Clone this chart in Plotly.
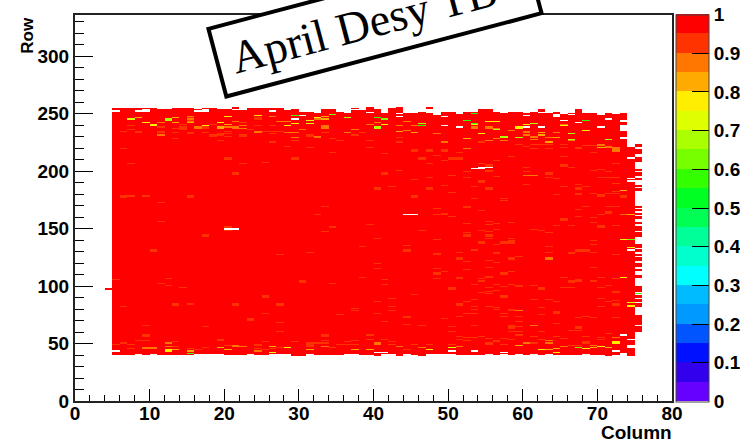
import plotly.graph_objects as go

# ---- data ----
FIRST_COL = 5
TOP_ROW = [254,254,254,254,254,254,253,253,254,254,254,253,254,254,253,253,252,252,254,254,254,254,254,252,
           253,251,251,250,253,253,251,250,254,252,255,253,250,254,255,250,250,251,250,248,251,251,249,251,
           251,253,253,251,250,251,251,250,251,253,250,251,249,250,253,250,250,248,250,249,250,220]
BOTTOM_ROW = [40,40,40,41,40,41,40,40,40,40,40,41,41,41,41,40,40,40,41,40,40,41,41,41,39,39,41,40,40,40,40,41,41,40,40,39,
              41,41,39,41,40,39,41,41,41,41,40,40,40,40,41,40,41,40,41,40,41,40,41,40,40,40,40,41,40,40,39,40,42,39]
# separate stubs above the main body and the sparse last columns (col, low row, high row)
EXTRA_RANGES = [(4,97,97),(21,254,255),(47,254,255)]
LAST_COL = 75
LAST_COL_RANGES = [(221,223),(215,218),(208,211),(200,201),(196,198),(192,193),(186,187),(183,184),(168,169),
                   (165,166),(162,163),(158,160),(154,155),(150,151),(148,149),(143,146),(133,136),(130,131),
                   (126,127),(122,124),(117,119),(113,114),(107,109),(95,99),(93,93),(90,91),(86,88),(82,84),
                   (71,74),(66,70),(60,64)]
HOLES = [(5,252),(8,252),(9,252),(9,253),(16,252),(17,252),(17,253),(26,252),(29,245),(30,248),(37,253),(39,251),
         (43,250),(43,247),(49,247),(49,239),(51,238),(60,248),(60,238),(62,251),(62,238),(64,247),(64,248),(64,249),
         (65,244),(66,249),(67,242),(70,238),(71,245),(73,243),(73,244),(73,235),(73,236),(73,237),(73,238),(73,239),
         (73,228),(73,229),(74,211),(74,193),(74,191),(74,131),(73,57),(74,53),(74,46),(74,47),(74,48),
         (5,43),(40,42),(41,42),(50,43),(53,43),(57,42),(72,43),(73,57),
         (53,202),(54,202),(54,203),(55,203),(20,149),(21,149),(20,150),(21,150),(44,162),(45,162)]
# faint lower-efficiency cells inside the body (column -> rows), all in the 0.90-0.95 band
INTERIOR_VALUE = 0.92
INTERIOR = {
 5:[105],6:[219,177,178,82],7:[178,206],9:[178,65],10:[130,131],11:[172,156,102],12:[106,100],13:[83,84],14:[98],
 15:[84,177,178],17:[143,144,64],20:[210,211,148,151],21:[197,198,83,84],22:[206],23:[70,71],25:[207,90,91,76],
 27:[127,83,84,68,60],28:[221],29:[210,211],30:[103,104],31:[220,129],32:[162],33:[169,147],34:[216,151,102],35:[75],
 37:[80,78],38:[134,107],39:[220,153],40:[184,185,141,119,115,86,76],41:[215,197,198,105,101,69],42:[186,89,82,78],
 43:[200],44:[135,130,131,72,73,66],45:[217,218,192,177,178,92],46:[210,211,148,65],47:[217,218,206,194,184,185],
 48:[213,167,162,140,127,128,115,110,111,106],49:[217,218,209,187,162,163,112,71],50:[210,211,196,181,160,98,97,64],
 51:[216,210,211,129,123,124,106,107,83,84,73],52:[199,194,168,169,154,146,143,144,121,114,86,76],
 53:[186,176,131,101,88,82,79,76,65],54:[206,190,191,165,148,137,138,106,104,94],
 55:[204,205,199,200,184,185,156,153,147,143,144,141,122,116,107,108,98,95,93,82],
 56:[209,195,154,149,136,128,129,120,101,96,81,79],57:[176,174,137,138,110,111,99,90,91,76,73],
 58:[212,155,141,139,137,138,123,124,112,101,78,79,65,63,64,60],59:[125,99,100,73,69,64],60:[221,203,199,188],
 61:[149,100,88],62:[148,97,98,81,75],63:[197,198,194,146,134,129,88],64:[193,179,152,86,76,77,67],
 65:[212,204,205,186,157,158,107,98],66:[203,152,128,129,103,104,98,61],67:[220,188,184,185,179,180,166,160,130,131,104,105,72,63,64],
 68:[222,186,169,130,131,73],69:[216,200,180,159,155,139,136,129,116,104,72],70:[201,194,178,179,162,151,152,107,98,89,82],
 71:[199,194,180,169,163,164,100,86],72:[206,194,189,182,180,169,152,127,106,94,95,87,83,84,72],
}
OFF_CELLS = [
 (7,245,.72),(8,246,.82),(9,242,.75),(10,239,.78),(10,240,.78),(7,239,.92),(7,236,.92),(8,233,.92),(8,234,.92),(6,234,.9),
 (12,244,.67),(12,245,.67),(11,242,.85),(11,238,.92),(11,234,.92),(11,233,.92),(11,231,.88),(13,246,.8),(13,242,.82),
 (13,237,.92),(13,233,.92),(13,228,.92),(14,236,.92),(14,237,.92),(14,238,.92),(14,240,.92),(15,243,.87),(15,244,.92),
 (15,245,.87),(15,246,.92),(15,247,.87),(15,242,.82),(15,232,.92),(15,233,.92),(16,237,.87),(16,238,.87),(17,239,.75),
 (17,237,.9),(17,238,.9),(17,233,.92),(18,240,.92),(18,230,.92),(18,231,.92),(19,242,.75),(19,237,.8),(19,238,.8),
 (19,231,.92),(19,232,.92),(19,226,.92),(20,247,.77),(20,240,.8),(20,238,.85),(20,234,.9),(20,232,.92),(20,230,.92),
 (21,243,.87),(21,237,.85),(21,238,.85),(22,242,.9),(22,239,.88),(22,237,.88),(22,230,.92),(22,231,.92),(23,236,.92),
 (24,248,.75),(24,245,.92),(24,246,.92),(24,239,.9),(24,234,.85),(24,233,.85),(25,234,.9),(26,247,.85),(26,239,.92),
 (26,234,.92),(26,232,.92),(26,225,.92),(27,243,.87),(27,234,.92),(28,243,.85),(28,239,.78),(28,233,.88),
 (29,248,.57),(29,241,.76),(29,233,.85),(29,229,.88),(29,226,.92),(30,236,.85),(31,244,.7),(31,241,.7),(31,230,.92),
 (31,231,.92),(32,246,.77),(32,245,.88),(32,230,.85),(32,229,.85),(33,247,.82),(33,245,.82),(33,237,.87),(33,238,.87),
 (33,239,.87),(33,233,.92),(34,249,.6),(34,228,.92),(35,226,.92),(36,246,.67),(36,233,.85),(37,236,.87),(37,231,.92),
 (38,233,.92),(39,240,.87),(39,226,.92),(40,246,.58),(40,242,.87),(40,237,.67),(40,238,.67),(41,245,.6),(41,240,.75),
 (43,239,.88),(43,234,.82),(43,229,.92),(43,225,.92),(44,243,.88),(44,235,.87),(45,239,.88),(45,233,.82),(46,241,.67),
 (46,239,.58),(48,232,.87),(49,225,.87),(52,244,.55),(52,228,.8),(53,250,.57),(53,241,.55),(53,240,.75),(53,237,.87),
 (53,238,.87),(54,232,.78),(54,225,.92),(55,243,.75),(55,237,.87),(55,238,.87),(55,226,.85),(56,243,.77),(56,237,.87),
 (56,236,.67),(56,228,.88),(57,229,.67),(57,230,.67),(57,226,.87),(58,235,.87),(59,237,.77),(59,238,.77),(59,229,.67),
 (59,223,.92),(60,240,.78),(60,233,.85),(60,234,.85),(60,231,.85),(61,241,.67),(61,229,.85),(61,230,.85),(61,227,.87),
 (61,223,.92),(61,219,.92),(62,233,.82),(62,231,.82),(62,223,.92),(63,229,.88),(63,225,.82),(63,223,.92),(63,219,.92),
 (64,233,.87),(64,229,.82),(65,240,.85),(65,239,.75),(65,223,.92),(65,220,.92),(66,232,.67),(66,227,.67),(66,226,.87),
 (67,219,.92),(68,244,.55),(68,235,.75),(68,222,.92),(69,222,.9),(69,216,.9),(70,223,.85),(70,222,.87),(70,220,.82),
 (71,227,.67),(71,221,.85),(71,220,.85),(72,220,.85),(72,218,.87),(72,219,.85),(72,217,.85),(73,183,.8),(73,177,.92),(73,178,.92),
 (73,162,.85),(73,140,.75),(73,107,.76),(74,162,.82),(74,140,.6),(74,133,.78),(74,85,.7),(74,83,.76),(74,82,.76),(75,93,.57),
 (52,219,.85),(60,196,.85),(61,196,.85),(61,65,.85),(63,123,.85),(63,124,.85),(59,78,.85),
 (6,50,.9),(5,49,.9),(7,49,.9),(7,45,.92),(8,52,.92),(9,52,.92),(9,56,.92),(9,57,.92),(9,46,.88),(10,46,.88),(9,45,.88),
 (10,45,.88),(12,50,.87),(12,47,.87),(12,43,.76),(12,44,.76),(13,51,.9),(13,47,.9),(13,44,.8),(15,45,.9),(15,41,.56),
 (15,43,.82),(16,44,.9),(17,46,.9),(19,52,.92),(19,53,.92),(19,46,.82),(20,48,.9),(20,44,.8),(21,47,.88),(21,48,.88),
 (22,47,.88),(24,48,.9),(24,49,.9),(24,45,.9),(24,43,.85),(25,51,.9),(25,44,.9),(26,47,.82),(26,45,.9),(26,42,.7),
 (27,60,.92),(27,46,.9),(28,46,.78),(29,51,.9),(31,47,.9),(31,48,.9),(31,49,.9),(31,50,.9),(31,44,.8),(32,50,.9),
 (33,56,.9),(33,57,.9),(33,52,.9),(33,50,.9),(33,47,.85),(34,46,.9),(35,49,.92),(36,51,.9),(36,49,.9),(37,52,.9),
 (37,49,.9),(37,44,.8),(39,57,.9),(39,53,.9),(39,44,.8),(40,50,.87),(40,49,.87),(41,53,.9),(42,51,.9),(42,49,.9),
 (43,47,.85),(44,44,.9),(45,49,.92),(46,46,.87),(47,49,.9),(47,44,.78),(50,60,.9),(50,49,.9),(50,46,.7),(51,56,.9),
 (51,53,.9),(51,47,.87),(52,55,.9),(52,52,.9),(53,55,.9),(54,56,.9),(55,54,.9),(55,50,.9),(55,49,.9),(56,52,.9),
 (56,51,.9),(57,54,.9),(57,49,.9),(58,53,.9),(59,60,.9),(59,57,.9),(59,48,.8),(60,50,.88),(61,56,.9),(61,50,.9),
 (62,60,.9),(62,53,.9),(62,44,.78),(63,52,.85),(63,50,.85),(63,44,.8),(64,56,.9),(64,45,.8),(64,42,.77),(65,54,.9),
 (65,47,.85),(66,48,.92),(67,61,.9),(67,48,.9),(67,46,.6),(68,56,.9),(68,50,.9),(68,51,.9),(68,45,.76),(69,48,.88),
 (69,46,.8),(70,55,.9),(70,53,.9),(70,47,.78),(71,58,.9),(71,46,.82),(72,55,.87),(72,50,.78),(72,51,.78),
]

X_TICKS = [0,10,20,30,40,50,60,70,80]
Y_TICKS = [0,50,100,150,200,250,300]
CBAR_TICKS = [0,0.1,0.2,0.3,0.4,0.5,0.6,0.7,0.8,0.9,1]
CBAR_LABELS = ["0","0.1","0.2","0.3","0.4","0.5","0.6","0.7","0.8","0.9","1"]
PALETTE = ["#6600ff","#3300ee","#0011ff","#0055ff","#0099ff","#00bbff","#00ffff","#00ffcc","#00ff99","#00ff55",
           "#00ff22","#33ff00","#77ff00","#aaff00","#ddff00","#ffee00","#ffaa00","#ff7700","#ff3300","#ff0000"]
TITLE = "April Desy TB"
X_TITLE = "Column"
Y_TITLE = "Row"

N_COLS, N_ROWS = 80, 336

z = [[None]*N_COLS for _ in range(N_ROWS)]
for i, (top, bot) in enumerate(zip(TOP_ROW, BOTTOM_ROW)):
    for r in range(bot, top+1):
        z[r][FIRST_COL+i] = 1.0
for lo, hi in LAST_COL_RANGES:
    for r in range(lo, hi+1):
        z[r][LAST_COL] = 1.0
for c, lo, hi in EXTRA_RANGES:
    for r in range(lo, hi+1):
        z[r][c] = 1.0
for c, rows in INTERIOR.items():
    for r in rows:
        z[r][c] = INTERIOR_VALUE
for c, r, v in OFF_CELLS:
    z[r][c] = v
for c, r in HOLES:
    z[r][c] = None

n = len(PALETTE)
colorscale = []
for i, c in enumerate(PALETTE):
    colorscale += [[i/n, c], [(i+1)/n, c]]

FONT = "Liberation Sans"
tick_font = dict(family=FONT, size=19, color="#000000", weight="bold")

fig = go.Figure(go.Heatmap(
    z=z, x=list(range(N_COLS+1)), y=list(range(N_ROWS+1)),
    zmin=0, zmax=1, colorscale=colorscale, zsmooth=False, hoverongaps=False,
    colorbar=dict(
        thickness=33, thicknessmode="pixels", len=386.5, lenmode="pixels",
        x=1.0067, xanchor="left", xpad=0, y=0.5, yanchor="middle", yref="paper", ypad=0,
        tickmode="array", tickvals=CBAR_TICKS, ticktext=CBAR_LABELS, ticks="inside", ticklen=17,
        tickcolor="#000000", tickwidth=1, tickfont=tick_font,
        outlinecolor="#444444", outlinewidth=1,
    ),
))

fig.update_layout(
    width=740, height=444, autosize=False,
    margin=dict(l=75, r=68, t=15, b=42.5, pad=0, autoexpand=False),
    paper_bgcolor="white", plot_bgcolor="white", showlegend=False,
    xaxis=dict(range=[0,80], tickmode="array", tickvals=X_TICKS, ticks="inside", ticklen=12, tickwidth=1,
               tickcolor="#000000", tickfont=tick_font, showgrid=False, zeroline=False, ticklabelstandoff=-6,
               showline=True, mirror=True, linecolor="#222222", linewidth=2,
               minor=dict(dtick=2, ticks="inside", ticklen=6, tickwidth=1, tickcolor="#000000", showgrid=False)),
    yaxis=dict(range=[0,336], tickmode="array", tickvals=Y_TICKS, ticks="inside", ticklen=18, tickwidth=1,
               tickcolor="#000000", tickfont=tick_font, showgrid=False, zeroline=False,
               showline=True, mirror=True, linecolor="#222222", linewidth=2,
               minor=dict(dtick=10, ticks="inside", ticklen=9, tickwidth=1, tickcolor="#000000", showgrid=False)),
    annotations=[
        dict(text="<b>%s</b>" % X_TITLE, xref="paper", yref="paper", x=1.004, y=-0.081, xanchor="right", yanchor="middle",
             showarrow=False, font=dict(family=FONT, size=19, color="#000000")),
        dict(text="<b>%s</b>" % Y_TITLE, xref="paper", yref="paper", x=-0.08, y=1.0, xanchor="center", yanchor="top",
             textangle=-90, showarrow=False, font=dict(family=FONT, size=17, color="#000000")),
        dict(text=TITLE + "&nbsp;&nbsp;", xref="paper", yref="paper", x=(375-75)/597, y=(401.5-21)/386.5,
             xanchor="center", yanchor="middle", textangle=-14.8, showarrow=False,
             width=322, height=66, align="center", valign="middle",
             bgcolor="white", bordercolor="#000000", borderwidth=4, borderpad=0,
             font=dict(family="Liberation Serif", size=46, color="#000000")),
    ],
)

fig.write_html("out.html", config=dict(displayModeBar=False),
               post_script="document.body.style.margin='0';document.body.style.overflow='hidden';")
